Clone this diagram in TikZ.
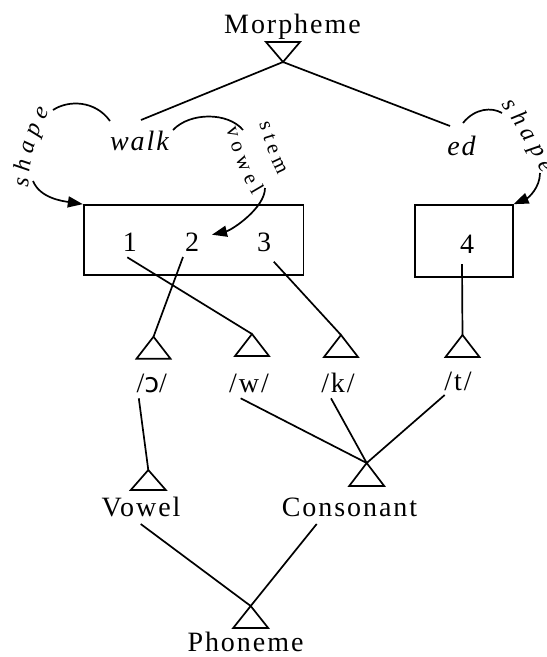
\documentclass[tikz,border=0pt]{standalone}
\usepackage{fontspec}
\setmainfont{Liberation Serif}
\newfontfamily\lsfont[LetterSpace=7]{Liberation Serif}
\newfontfamily\shapefont[Scale=1.0001]{Liberation Serif}
\newfontfamily\stemfont[Scale=1.0002]{Liberation Serif}
\newfontfamily\ipafont{DejaVu Sans}
\usetikzlibrary{arrows.meta,decorations.text}
\begin{document}
\begin{tikzpicture}[x=1pt,y=-1pt,line width=1.7pt,
  big/.style={font=\lsfont\fontsize{28}{28}\selectfont,inner sep=0pt,anchor=base},
  bigit/.style={font=\lsfont\itshape\fontsize{28}{28}\selectfont,inner sep=0pt,anchor=base},
  digit/.style={font=\fontsize{28}{28}\selectfont,inner sep=0pt,anchor=base},
  boxnode/.style={draw,inner sep=0pt},
  arr/.style={-{Triangle[length=15pt,width=11pt]}},
  curvetext/.style={decorate,decoration={text along path,text align={center},text={#1}}}
]
\fill[white] (0,0) rectangle (547,657);
\useasboundingbox (0,0) rectangle (547,657);

% top
\node[big] (morph) at (292.5,33) {Morpheme};
\coordinate (mA) at (283,62);
\draw (mA) -- ++(-17,-20) -- ++(34,0) -- cycle;
\node[bigit] (walk) at (139.5,150) {walk};
\node[bigit] (ed) at (461.5,155) {ed};
\draw (mA) -- ([shift={(1.5,-30)}]walk.base);
\draw (mA) -- ([shift={(-11.5,-29)}]ed.base);

% boxes
\node[boxnode,minimum width=219.8pt,minimum height=70pt] (box1) at (193.6,240) {};
\node[boxnode,minimum width=97.7pt,minimum height=72pt] (box2) at (463.85,241) {};
\node[digit] (d1) at (129.8,251.7) {1};
\node[digit] (d2) at (192,251.7) {2};
\node[digit] (d3) at (264,251.7) {3};
\node[digit] (d4) at (467,253) {4};

% phoneme triangles
\coordinate (oA) at (153.5,336.7);
\coordinate (wA) at (252,334);
\coordinate (kA) at (341,335);
\coordinate (tA) at (462.5,335);
\foreach \c in {oA,wA,kA,tA} \draw (\c) -- ++(-17,22) -- ++(34,0) -- cycle;
\draw (d1.base) ++(-2.5,5.6) -- (wA);
\draw (d2.base) ++(-9,5.3) -- (oA);
\draw (d3.base) ++(9.8,10) -- (kA);
\draw (d4.base) ++(-5,11) -- (tA);

\node[big] (lo) at (151.7,392) {/{\ipafont\fontsize{27}{27}\selectfont ɔ}/};
\node[big] (lw) at (249,392) {/w/};
\node[big] (lk) at (338,392) {/k/};
\node[big] (lt) at (458,390) {/t/};

% classes
\coordinate (vA) at (148.3,470);
\draw (vA) -- ++(-17.5,20) -- ++(35,0) -- cycle;
\coordinate (cA) at (366.7,463);
\draw (cA) -- ++(-17.5,23) -- ++(35,0) -- cycle;
\draw (lo.base) ++(-12.9,6.3) -- (vA);
\draw (lw.base) ++(-8.3,6.3) -- (cA);
\draw (lk.base) ++(-7,6.3) -- (cA);
\draw (lt.base) ++(-13.3,5) -- (cA);
\node[big] (vowel) at (141,516) {Vowel};
\node[big] (cons) at (349.5,516) {Consonant};
\coordinate (pA) at (250.7,606);
\draw (pA) -- ++(-17.5,22) -- ++(35,0) -- cycle;
\node[big] (phon) at (245.5,651) {Phoneme};
\draw (vowel.base) ++(-0.3,8) -- (pA);
\draw (cons.base) ++(-32.8,8) -- (pA);

% left shape arrow
\draw (walk.base) ++(-29.5,-29) .. controls (95,100) and (68,100) .. (53,110);
\draw[arr] (33,181) .. controls (40,198) and (62,201) .. (box1.north west);

% stem vowel arrow
\draw (walk.base) ++(33.5,-20) .. controls (190,112) and (228,112) .. (243,130);
\draw[arr] (265,188) .. controls (265,208) and (232,230) .. ([shift={(20,-17)}]d2.base);

% right shape arrow
\draw (ed.base) ++(1.5,-32) .. controls (475,108) and (492,107) .. (502,113);
\draw[arr] (540,173) .. controls (540,188) and (528,198) .. (box2.north east);

% curved labels
\begingroup
\shapefont\itshape\fontsize{24}{24}\selectfont\fontdimen2\font=2.5pt\fontdimen3\font=0pt\fontdimen4\font=0pt
\path[curvetext={s h a p e}] (28,192) .. controls (30,155) and (38,130) .. (52,108);
\path[curvetext={s h a p e}] (498,99) .. controls (510,117) and (530,147) .. (546,180);
\endgroup
\begingroup
\stemfont\fontsize{21}{21}\selectfont\fontdimen2\font=1pt\fontdimen3\font=0pt\fontdimen4\font=0pt
\path[curvetext={v o w e l}] (226,128) .. controls (232,150) and (240,175) .. (253,196);
\path[curvetext={s t e m}] (258,120) .. controls (264,138) and (269,160) .. (280,178);
\endgroup
\end{tikzpicture}
\end{document}
